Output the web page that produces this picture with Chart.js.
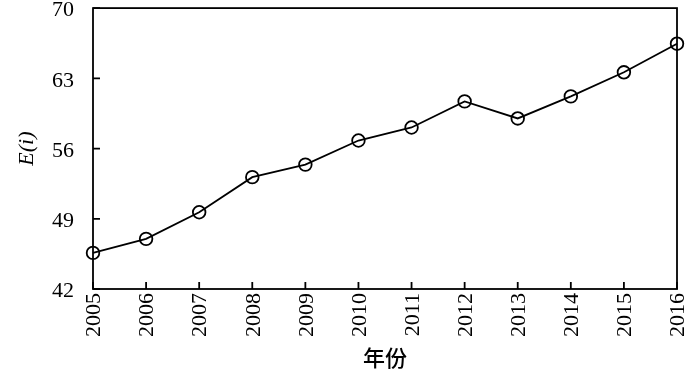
<!DOCTYPE html>
<html>
<head>
<meta charset="utf-8">
<script src="https://cdn.jsdelivr.net/npm/chart.js@4.4.0/dist/chart.umd.min.js"></script>
<style>
  html, body { margin: 0; padding: 0; background: #fff; }
  canvas { display: block; }
</style>
</head>
<body>
<canvas id="myChart" width="700" height="372"></canvas>
<script>
const years = ['2005', '2006', '2007', '2008', '2009', '2010', '2011', '2012', '2013', '2014', '2015', '2016'];
const values = [45.6, 47.0, 49.65, 53.15, 54.4, 56.8, 58.1, 60.7, 59.0, 61.2, 63.6, 66.45];
const yTicks = [42, 49, 56, 63, 70];

const serif = '"Liberation Serif", "Times New Roman", serif';

// box around plot + inward tick marks
const frame = {
    id: 'frame',
    afterDraw: (chart) => {
        const ctx = chart.ctx;
        const area = chart.chartArea;
        const x = chart.scales.x;
        const y = chart.scales.y;
        ctx.save();
        ctx.strokeStyle = '#000';
        ctx.lineWidth = 1.8;
        ctx.strokeRect(area.left, area.top, area.right - area.left, area.bottom - area.top);
        ctx.beginPath();
        for (let i = 0; i < years.length; i++) {
            const px = x.getPixelForTick(i);
            ctx.moveTo(px, area.bottom);
            ctx.lineTo(px, area.bottom - 7);
        }
        for (let i = 0; i < yTicks.length; i++) {
            const py = y.getPixelForValue(yTicks[i]);
            ctx.moveTo(area.left, py);
            ctx.lineTo(area.left + 7, py);
        }
        ctx.stroke();
        ctx.restore();
    }
};

const ctx = document.getElementById('myChart').getContext('2d');
const myChart = new Chart(ctx, {
    type: 'line',
    plugins: [frame],
    data: {
        labels: years,
        datasets: [{
            data: values,
            borderColor: '#000',
            borderWidth: 1.8,
            backgroundColor: 'rgba(0,0,0,0)',
            pointStyle: 'circle',
            pointRadius: 6.3,
            pointBorderWidth: 1.8,
            pointBorderColor: '#000',
            pointBackgroundColor: 'rgba(0,0,0,0)',
            tension: 0,
            fill: false,
            clip: false
        }]
    },
    options: {
        responsive: false,
        animation: false,
        layout: { padding: { left: 0, top: 8, right: 23, bottom: 0 } },
        plugins: {
            legend: { display: false },
            tooltip: { enabled: false }
        },
        scales: {
            x: {
                type: 'category',
                offset: false,
                grid: { display: false, drawTicks: false },
                border: { display: false },
                ticks: {
                    color: '#000',
                    font: { family: serif, size: 22 },
                    minRotation: 90,
                    maxRotation: 90,
                    autoSkip: false,
                    padding: 4,
                    labelOffset: 1.5
                },
                title: {
                    display: true,
                    text: '年份',
                    color: '#000',
                    font: { family: '"Noto Sans CJK SC", sans-serif', size: 22, weight: '500' },
                    padding: { top: 0, bottom: 1 }
                },
                afterFit: (scale) => {
                    scale.height = 83;
                    scale.paddingLeft = 0;
                    scale.paddingRight = 0;
                }
            },
            y: {
                min: 42,
                max: 70,
                grid: { display: false, drawTicks: false },
                border: { display: false },
                ticks: {
                    stepSize: 7,
                    color: '#000',
                    font: { family: serif, size: 22 },
                    padding: 19,
                    labelOffset: 2.5
                },
                title: {
                    display: true,
                    text: 'E(i)',
                    color: '#000',
                    font: { family: serif, size: 22, style: 'italic' },
                    padding: { top: 14, bottom: 0 }
                },
                afterFit: (scale) => {
                    scale.width = 93;
                    scale.paddingTop = 0;
                    scale.paddingBottom = 0;
                }
            }
        }
    }
});
</script>
</body>
</html>
